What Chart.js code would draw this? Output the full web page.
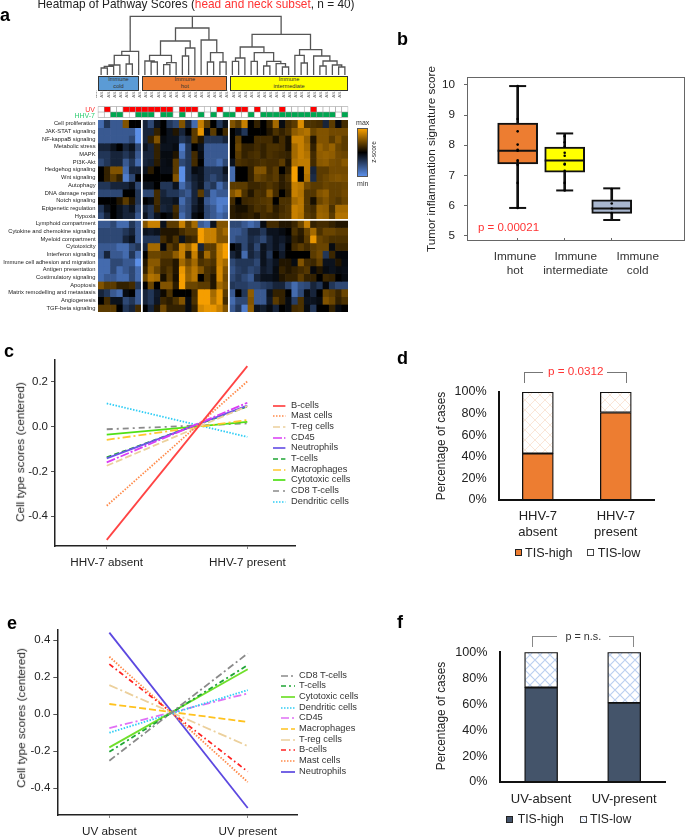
<!DOCTYPE html>
<html><head><meta charset="utf-8">
<style>
html,body{margin:0;padding:0;background:#fff}
#root{position:relative;width:685px;height:839px;overflow:hidden;font-family:"Liberation Sans",Arial,sans-serif;color:#222;filter:blur(0.35px)}
#root canvas{position:absolute}
.t{position:absolute;white-space:nowrap;line-height:1}
</style>
<script src="https://cdn.jsdelivr.net/npm/chart.js@4/dist/chart.umd.min.js"></script>
</head><body><div id="root"></div>
<script>
// ---------- DATA ----------
const pathways=["Cell proliferation","JAK-STAT signaling","NF-kappaB signaling","Metabolic stress","MAPK","PI3K-Akt","Hedgehog signaling","Wnt signaling","Autophagy","DNA damage repair","Notch signaling","Epigenetic regulation","Hypoxia","Lymphoid compartment","Cytokine and chemokine signaling","Myeloid compartment","Cytotoxicity","Interferon signaling","Immune cell adhesion and migration","Antigen presentation","Costimulatory signaling","Apoptosis","Matrix remodelling and metastasis","Angiogenesis","TGF-beta signaling"];
const sampleIds=["AS-37","AS-87","AS-59","AS-06","AS-14","AS-15","AS-19","AS-86","AS-88","AS-18","AS-29","AS-43","AS-49","AS-17","AS-46","AS-48","AS-41","AS-73","AS-16","AS-90","AS-50","AS-53","AS-52","AS-21","AS-13","AS-11","AS-08","AS-20","AS-33","AS-34","AS-22","AS-72","AS-27","AS-82","AS-84","AS-47","AS-51","AS-45","AS-24","AS-36"];
const uvPresent=[1,4,5,6,7,8,9,10,11,13,14,15,19,22,23,25,29,34];
const hhvPresent=[2,3,6,7,8,10,11,13,16,18,20,21,24,26,27,28,29,30,31,32,33,34,35,36,37,39];
const heatCold=[
[-3,-1.5,-2.5,-2.5,1.5,0,0],[-2.5,-2.5,-2.5,-2.5,-2.5,-2.5,-4],[-2.5,-2.5,-2.5,-2.5,-2.5,-2,-4],[-1,-1,-.5,0,-1,-.5,-2],[-1.5,-1.5,-1,-1,-1.5,-1,-2.5],[-2,-1.5,-1,-1,-2.5,-1.5,-3],[0,.5,1.5,1.5,-3,-1,-1],[0,.5,1,.5,-3.5,-2,0],[-1.5,-1.5,-1,-1,-1,-.5,-2],[-2,-2,-2,-2,0,0,-1.5],[0,0,0,.3,1,.3,-1.5],[-1.5,-.5,0,-.5,-1,-.5,-2],[-2,-1,0,-.5,-1,-1,-2.5],
[-2.5,-2.5,-2,-3,-3,-1.5,-2.5],[-2,-2,-2,-2,-1.5,-1,-2.5],[-2,-2,-2,-2,-1,-.5,-2.5],[-2.5,-2.5,-2.5,-3,-3,-2,-1.5],[-2.5,-1,-2.5,-2.5,-3,-1.5,-3],[-3,-3,-2,-2,-2.5,-2.5,-4],[-3,-3,-2,-3,-2.5,-2,-3],[-3,-2.5,-2.5,-3,-3,-2,-3],[1.5,1,1,.5,.5,.7,-1.5],[-1,-1.5,-2.5,-3,-.3,0,-2.5],[0,.7,-.5,-.5,-2,-1.5,-2.5],[1,1,1,0,-1.5,-1,.7]];
const heatHot=[
[-1,-2,-.5,0,-1.5,-2,1.5,-1,-3,2.5,1,0,-1.5,-.5],[-1,-1,.5,0,-.5,.3,-1,0,1,3,-.3,1,0,.7],[-1,.5,1.5,-.3,-.5,-.5,-1.5,-1,1,.3,-1.5,-1.5,-1.5,-1],[-.5,-1,.5,-.5,-.5,-.3,-3.5,-1.5,0,-.5,-2.5,-2.5,-2.5,-2.5],[-1,-1,.5,-.3,-.3,.3,-3,-1.5,.7,-.3,-2.5,-2.5,-2.5,-2.5],[-1,-.8,.4,-.4,-.3,1,-2,-1.5,.7,0,-2.5,-2.5,-3,-2],[-.5,.4,0,-.4,-.4,1,-4,-1.5,-.3,-.5,-1.5,-1.5,-1.5,-.5],[0,0,0,0,0,1.5,-4,-1.5,-.8,-.5,-1.5,-2,-1.5,-1],[-.5,-.5,0,-1.5,-1.5,-.5,-3,-2,-1,-.5,-2,-1.5,-3,-2],[-2,-2,.7,-1,-1.5,-1.5,-2,-2.5,-1,1,-1.5,-3,-2.5,-2.5],[0,-.3,.7,-.8,-.8,-.5,-3,-2,-1,-.3,-2.5,-3,-3.5,-3.5],[-1,-1.5,.5,-1,-.8,.7,-2.5,-2,-.7,-.3,-2,-2.5,-3.5,-3],[-.5,-1.5,-.5,0,-.3,.5,-3,-2,-.3,0,-2,-2.5,-3,-2.5],
[1.5,2.5,2.5,-.5,1,1,2.5,1,2,-2.5,-3,-.5,1.5,1.5],[-.5,-.7,-.5,.3,.3,.3,.7,1,1,3.5,2.5,2.5,1.5,2],[-1.5,-1.5,-1.5,.7,.3,.8,-.5,.5,.7,3.5,2.5,2.5,1.5,1.5],[-1,2,2,-.2,1,.6,2.5,1.8,3,-1,1,1,2.5,3.2],[0,1.2,1.2,1,1,1.7,2.5,.5,2.5,.5,2,1,2.5,3.5],[.3,1.6,1.6,.7,.7,.3,2,1.3,2,.8,1,.8,2.5,2],[.5,1.8,1.2,.6,.9,.3,3,1.7,2.3,1.5,.8,.6,2.7,1.5],[1.2,2.2,2,.2,1,.2,3.2,1.8,2.3,0,.8,.3,2.7,1.3],[0,1.2,0,1.5,1.5,.4,3.2,1.2,1.2,1,1,.3,2,1.5],[-1,-1.5,-.7,.1,.8,0,0,0,.7,3.3,3.3,2,3,1],[-1,-1.5,-.6,.6,.4,.8,1.5,-.3,.8,3.3,3.3,2.2,3,.7],[0,-1,.3,1.3,.5,.5,.5,-.3,.5,2.7,3,3,2.5,1.5]];
const heatInter=[
[1.5,1,2.5,0,.5,0,.5,2,-.3,.7,1,2.8,.8,.8,.7,-1,1,-.2,.7],[0,-.5,-1.5,0,0,0,.3,.8,.5,.8,1.7,2,2.2,1.2,1.5,1.5,1.3,1.3,1.3],[0,1,0,0,.7,.7,.7,.2,.7,.2,2.5,2.5,1.8,.3,1.5,1.5,1,1.5,1],[0,1.2,.5,.5,.7,.5,.8,.8,.7,.2,2,2.5,2,.5,1.8,1.5,1.8,1.2,1],[0,1,.5,.7,.8,.5,.8,.7,.6,.5,2,2.5,2.2,.7,1.7,1.8,1.7,1.3,1.2],[-.5,.8,.7,.6,.7,.8,.7,.7,1,.3,2.2,2.4,2.4,.7,1.6,1.7,1.4,1.3,1.6],[-3,0,0,.5,1.5,1.5,.7,1,0,.5,3.5,0,2.4,-1,1,1,1.3,1.3,1.3],[-3,0,0,.5,1.2,1,.8,1,.4,.8,3.5,0,2.2,-1.2,1,1.2,1.4,1.5,1.4],[1,1,1,.6,.6,.7,.9,.7,.4,.6,2.5,2.3,1.3,1,1,1.2,1.1,1.1,1.2],[1.5,2,.8,.3,.8,.7,1.6,.7,0,.5,2.5,2.2,.9,.9,1.5,1.7,1.1,1.1,1.3],[.7,0,.6,.7,.8,.9,1,0,.8,.8,2,2.3,.9,.2,1.2,1.5,1.1,.9,1.2],[.4,.2,.2,.5,.8,.7,1,.4,.7,.9,2.5,2.3,.9,.7,1.8,1.7,.8,2,2],[.4,.3,.4,.5,.3,.7,.6,.5,.8,.9,2.5,2.2,1,.8,1.9,1.8,1,2.2,2.2],
[-2,-2,-2.5,-3,-2.5,-.3,.7,.7,.3,.3,.6,1.2,2.5,.5,.7,.7,.5,.3,.3],[-2.5,-2.5,-2,-1,-1,-1.5,-.5,-.5,-.3,0,.8,.4,1.2,2,.8,1.2,1.2,1,1],[-2.5,-2,-2,-1.2,-1.5,-2,-1,-.5,-.7,-.3,.5,.3,1,3,1.2,1,.8,.8,.8],[0,-.5,-2,-1,-2,-.5,-1,-.5,-1,0,.7,1,.7,1,1.2,1.2,-.3,.6,.6],[-1,-.5,-3,-1,-1.5,-.5,-1.5,0,-.7,0,0,0,0,1,1.3,-1.5,.6,-.2,-.2],[-2,-1.5,-1.5,-1.5,-2,-.5,-1,-.5,.3,.3,-.3,1.5,.7,.6,1.1,-.5,-.5,.3,-.3],[-2.3,-1.7,-1.5,-2,-1.7,-.7,-1,-.3,.5,.3,.5,.7,.9,-.2,.3,-.3,-.5,-.3,-.4],[-2,-1.5,-2,-2.5,-1,-.5,-.5,-.3,.3,.5,.5,1,.5,.5,0,.6,.5,0,-.3],[-1.5,-1.7,-1.7,-2,-2,-1.7,-1.5,-1,-1,-2,-3,-2.2,-2,-1,-1.5,-.2,-1.5,-2,-2],[-2.5,0,-1.5,1.7,-2.5,-2.5,-.5,.5,.5,0,-3,-2,-.3,-1,0,1.2,1,.6,1.2],[-3,-2,-2,1.5,-2.5,-2.5,-.7,1,.5,-.3,-1.7,.8,-.5,-.5,-.3,1.5,1.2,.5,.8],[-2.5,-1.5,-3.5,1.7,-.5,-.8,-.3,-1,0,-.3,.7,.8,-.3,-1.5,0,0,.5,-.3,0]];
// dendrogram merges: [left x, right x, height, left child height, right child height]
const merges=[[.5,1.5,7,0,0],[1,2.5,8.7,7,0],[1.75,3.5,10,8.7,0],[4.5,5.5,11,0,0],[2.6,5,19.7,10,11],[3.8,6.5,23.7,19.7,0],
[8.5,9.5,13,0,0],[7.5,9,14,0,13],[10.5,11.5,10.3,0,0],[11,12.5,12.3,10.3,0],[8.25,11.75,19.7,14,12.3],[13.5,14.5,19,0,0],[14,15.5,27,19,0],[10,14.75,34,19.7,27],[17.5,18.5,13,0,0],[19.5,20.5,13,0,0],[18,20,22.3,13,13],[16.5,19,35,0,22.3],[12.4,17.75,47,34,35],
[21.5,22.5,13.7,0,0],[22,23.5,17,13.7,0],[24.5,25.5,13.7,0,0],[26.5,27.5,9,0,0],[29.5,30.5,8,0,0],[28.5,30,11.3,0,8],[27,29.25,13.7,9,11.3],[25,28.1,22.3,13.7,13.7],[22.75,26.55,28,17,22.3],[32.5,33.5,12,0,0],[31.5,33,19.7,0,12],[35.5,36.5,9,0,0],[38.5,39.5,8,0,0],[37.5,39,10,0,8],[36,38.25,14,9,10],[34.5,37.1,19,0,14],[32.25,35.8,25.3,19.7,19],[24.65,34,40.7,28,25.3],
[5.15,29.3,58.7,23.7,40.7],[15.1,15.1,58.7,47,47]];
// panel b
const boxNames=[["Immune","hot"],["Immune","intermediate"],["Immune","cold"]];
const boxLo=[5.92,6.5,5.52],boxQ1=[7.38,7.11,5.74],boxMed=[7.82,7.49,5.9],boxQ3=[8.73,7.94,6.19],boxHi=[9.96,8.39,6.57];
const boxFill=["#ed7d31","#ffff00","#a9b7cf"];
const dotsHot=[9.96,8.87,8.46,8.02,7.85,7.82,7.5,7.45,7.35,6.75,5.92];
const dotsInter=[8.3,8.1,7.95,7.75,7.65,7.38,7.36,7.15,6.75,6.5];
const dotsCold=[6.55,6.07,5.9,5.75];
const bTicks=[5,6,7,8,9,10];
// panel c
const cNames=["B-cells","Mast cells","T-reg cells","CD45","Neutrophils","T-cells","Macrophages","Cytotoxic cells","CD8 T-cells","Dendritic cells"];
const cAbsent=[-.505,-.353,-.175,-.16,-.142,-.138,-.06,-.037,-.013,.102];
const cPresent=[.268,.2,.09,.105,.092,.088,.028,.02,.013,-.047];
const cColors=["#f44","#ff8a4a","#ecd09c","#d93cf5","#6b55e6","#1fa535","#ffc72e","#4fe016","#8a8a8a","#2fcdf5"];
const cDash=[[],[1.5,1.5],[7,3],[9,2,2,2],[],[5,3],[8,3,2,3],[],[6,4,2,4],[1.5,1.5]];
// panel e
const eNames=["CD8 T-cells","T-cells","Cytotoxic cells","Dendritic cells","CD45","Macrophages","T-reg cells","B-cells","Mast cells","Neutrophils"];
const eAbsent=[-.251,-.203,-.179,-.1,-.075,.055,.157,.27,.31,.44];
const ePresent=[.328,.265,.242,.13,.112,-.042,-.172,-.31,-.366,-.506];
const eColors=["#8a8a8a","#1fa535","#6fe02a","#2fcdf5","#e070f5","#ffc21e","#ecd09c","#f22","#ff8a4a","#5c48e0"];
const eDash=[[7,3,2,3],[5,3,2,3],[],[1.5,1.5],[8,3,2,3],[7,3],[9,3,2,3],[5,3,1.5,3],[1.5,1.5],[]];
// panels d, f
const dLabels=[["HHV-7","absent"],["HHV-7","present"]];
const dHigh=[43,81];
const fLabels=["UV-absent","UV-present"];
const fHigh=[72.8,61];
const pctTicks=[0,20,40,60,80,100];

// ---------- HELPERS ----------
const root=document.getElementById('root');
const FONT='"Liberation Sans",Arial,sans-serif';
Chart.defaults.font.family=FONT;
Chart.defaults.animation=false;
function text(x,y,s,o={}){const d=document.createElement('div');d.className='t';d.textContent=s;
  const a=o.anchor||'middle';const tx=a==='start'?'0':a==='end'?'-100%':'-50%';
  d.style.cssText+=`left:${x}px;top:${y}px;font-size:${o.size||12}px;color:${o.color||'#222'};font-weight:${o.weight||'normal'};transform:translate(${tx},-50%)${o.rot?` rotate(${o.rot}deg)`:''};transform-origin:${a==='middle'?'50% 50%':'0 50%'};`;
  root.appendChild(d);return d;}
function rich(x,y,parts,size){const d=document.createElement('div');d.className='t';d.style.cssText+=`left:${x}px;top:${y}px;font-size:${size}px;transform:translateY(-50%);`;
  parts.forEach(p=>{const s=document.createElement('span');s.textContent=p[0];s.style.color=p[1];d.appendChild(s)});root.appendChild(d);}
function box(x,y,w,h,css){const d=document.createElement('div');d.style.cssText=`position:absolute;box-sizing:border-box;left:${x}px;top:${y}px;width:${w}px;height:${h}px;${css}`;root.appendChild(d);return d;}
function chart(x,y,w,h,cfg){const c=document.createElement('canvas');c.width=w;c.height=h;c.style.left=x+'px';c.style.top=y+'px';c.style.width=w+'px';c.style.height=h+'px';root.appendChild(c);
  cfg.options=Object.assign({responsive:false,animation:false,devicePixelRatio:1,plugins:{legend:{display:false},tooltip:{enabled:false}}},cfg.options);
  return new Chart(c,cfg);}
const fit=size=>s=>{if(s.isHorizontal())s.height=size;else s.width=size;s.paddingLeft=s.paddingRight=s.paddingTop=s.paddingBottom=0;};
const setTicks=vals=>a=>{a.ticks=vals.map(v=>({value:v}));};
function heatColor(v){const t=v>=0?Math.pow(Math.min(1,v/3.2),.85):Math.min(1,-v/4);const e=v>=0?[245,158,0]:[91,143,232];return `rgb(${e.map(c=>Math.round(c*t)).join(',')})`;}
function hatch(color,lw){const p=document.createElement('canvas');p.width=p.height=10;const g=p.getContext('2d');g.fillStyle='#fff';g.fillRect(0,0,10,10);g.strokeStyle=color;g.lineWidth=lw;g.beginPath();g.moveTo(-1,-1);g.lineTo(11,11);g.moveTo(11,-1);g.lineTo(-1,11);g.stroke();return g.createPattern(p,'repeat');}
function legendLines(x,y,dy,w,names,colors,dashes,size,textGap){
  names.forEach((n,i)=>{const yy=y+i*dy;const s=document.createElementNS('http://www.w3.org/2000/svg','svg');
    s.setAttribute('width',w);s.setAttribute('height',4);s.style.cssText=`position:absolute;left:${x}px;top:${yy-2}px`;
    const l=document.createElementNS('http://www.w3.org/2000/svg','line');l.setAttribute('x1',0);l.setAttribute('x2',w);l.setAttribute('y1',2);l.setAttribute('y2',2);l.setAttribute('stroke',colors[i]);l.setAttribute('stroke-width',1.7);if(dashes[i].length)l.setAttribute('stroke-dasharray',dashes[i].join(' '));s.appendChild(l);root.appendChild(s);
    text(x+w+textGap,yy,n,{size,anchor:'start',color:'#333'});});
}

// ---------- PANEL LETTERS ----------
[["a",0,15],["b",397,39],["c",4,351],["d",397,358],["e",7,623],["f",397,622]].forEach(l=>text(l[1],l[2],l[0],{size:18,weight:'bold',anchor:'start',color:'#000'}));

// ---------- PANEL A ----------
rich(37.5,5,[["Heatmap of Pathway Scores (","#222"],["head and neck subset","#f33"],[", n = 40)","#222"]],11.85);
// dendrogram
const dendro=[];merges.forEach(m=>{dendro.push({x:m[0],y:m[3]},{x:m[0],y:m[2]},{x:m[1],y:m[2]},{x:m[1],y:m[4]},{x:m[1],y:null});});
chart(96,12,254,65,{type:'line',data:{datasets:[{data:dendro,borderColor:'#555',borderWidth:1.3,pointRadius:0,tension:0,spanGaps:false,clip:false}]},
 options:{layout:{padding:{left:2,right:2,top:3,bottom:2}},scales:{x:{type:'linear',display:false,min:0,max:40},y:{display:false,min:0,max:60}}}});
// group boxes
[[98,41,"#5b9bd5",["Immune","cold"]],[142.3,85,"#ed7d31",["Immune","hot"]],[230.3,117.5,"#ffff00",["Immune","intermediate"]]].forEach(g=>{
  box(g[0],76.3,g[1],14.4,`background:${g[2]};border:1px solid #333`);
  text(g[0]+g[1]/2,80.3,g[3][0],{size:5.7,color:'#333'});text(g[0]+g[1]/2,87,g[3][1],{size:5.7,color:'#333'});});
// annotation rows
const idx40=sampleIds.map((_,i)=>i);
chart(96,90,254,30,{type:'bar',data:{datasets:[
 {data:idx40.map(i=>({x:i+.5,y:[0,1]})),backgroundColor:idx40.map(i=>uvPresent.includes(i)?'#f00':'#fff'),borderColor:'#999',borderWidth:.6,borderSkipped:false,grouped:false,barPercentage:1,categoryPercentage:1,clip:false},
 {data:idx40.map(i=>({x:i+.5,y:[1,2]})),backgroundColor:idx40.map(i=>hhvPresent.includes(i)?'#00a651':'#fff'),borderColor:'#999',borderWidth:.6,borderSkipped:false,grouped:false,barPercentage:1,categoryPercentage:1,clip:false}]},
 options:{layout:{padding:{left:2,right:2,bottom:2.7}},scales:{
  x:{type:'linear',position:'top',min:0,max:40,offset:false,afterBuildTicks:setTicks(idx40.map(i=>i+.5)),afterFit:fit(16.7),border:{display:false},grid:{display:false,offset:false},
     ticks:{autoSkip:false,maxRotation:90,minRotation:90,padding:1,font:{size:4.4},color:'#666',callback:v=>sampleIds[Math.floor(v)]}},
  y:{display:false,min:0,max:2,reverse:true}}}});
text(95,109.3,"UV",{size:7,anchor:'end',color:'#f33'});
text(95,114.8,"HHV-7",{size:7,anchor:'end',color:'#2ecc71'});
// heat cells
const heatRows=pathways.map((_,r)=>heatCold[r].concat(heatHot[r],heatInter[r]));
chart(0,118,350,196,{type:'bar',data:{datasets:heatRows.map((row,r)=>({data:row.map((v,c)=>({x:c+.5,y:[r,r+1]})),backgroundColor:row.map(heatColor),borderWidth:0,grouped:false,barPercentage:1,categoryPercentage:1}))},
 options:{layout:{padding:{top:2,bottom:2,right:2}},scales:{
  x:{type:'linear',min:0,max:40,offset:false,afterBuildTicks:setTicks([7,21]),afterFit:fit(0),border:{display:false},ticks:{display:false},grid:{z:1,offset:false,color:'#fff',lineWidth:1.8,drawTicks:false}},
  y:{type:'linear',min:0,max:25,reverse:true,afterBuildTicks:setTicks(pathways.map((_,i)=>i+.5)),afterFit:fit(98),border:{display:false},grid:{display:false,drawTicks:false},
     ticks:{autoSkip:false,padding:2.5,font:{size:5.75},color:'#222',callback:v=>pathways[Math.floor(v)]}},
  y2:{type:'linear',position:'right',min:0,max:25,reverse:true,afterBuildTicks:setTicks([13]),afterFit:fit(0),border:{display:false},ticks:{display:false},grid:{z:1,color:'#fff',lineWidth:1.8,drawTicks:false}}}}});
// colour bar
box(356.7,127.7,11.6,49,'background:linear-gradient(to bottom,#f59e00 0%,#000 50%,#5b8fe8 100%);border:1px solid #555');
text(362.7,121.7,"max",{size:7,color:'#333'});
text(362.7,182.7,"min",{size:7,color:'#333'});
text(374,151.7,"z-score",{size:6.6,color:'#333',rot:-90});

// ---------- PANEL B ----------
box(467,76.7,217.5,164.5,'border:1px solid #666');
const X=[1,2,3];
const whisk={type:'bar',data:X.map((x,i)=>({x,y:[boxLo[i],boxHi[i]]})),backgroundColor:'#111',barThickness:2,grouped:false,order:5};
const boxes={type:'bar',data:X.map((x,i)=>({x,y:[boxQ1[i],boxQ3[i]]})),backgroundColor:boxFill,borderColor:'#111',borderWidth:2,borderSkipped:false,barThickness:40,grouped:false,order:4};
const lineMark=(vals,r,bw,ord)=>({type:'scatter',data:X.map((x,i)=>({x,y:vals[i]})),pointStyle:'line',pointRadius:r,borderColor:'#111',pointBorderColor:'#111',pointBorderWidth:bw,showLine:false,order:ord});
const dots=(x,vals)=>({type:'scatter',data:vals.map(y=>({x,y})),pointRadius:1.3,pointBackgroundColor:'#000',pointBorderWidth:0,showLine:false,order:1});
chart(400,60,285,200,{type:'bar',data:{datasets:[whisk,boxes,lineMark(boxLo,8.5,2,3),lineMark(boxHi,8.5,2,3),lineMark(boxMed,20,2,2),dots(1,dotsHot),dots(2,dotsInter),dots(3,dotsCold)]},
 options:{layout:{padding:{top:16.7,right:1}},scales:{
  x:{type:'linear',min:-.077,max:4.09,offset:false,afterBuildTicks:setTicks(X),afterFit:fit(19.3),border:{display:false},grid:{offset:false,drawOnChartArea:false,tickLength:3,tickColor:'#666'},ticks:{display:false}},
  y:{min:4.924,max:10.095,afterBuildTicks:setTicks(bTicks),afterFit:fit(67),border:{display:false},grid:{drawOnChartArea:false,tickLength:3,tickColor:'#666'},ticks:{padding:9,font:{size:11.7},color:'#222',callback:v=>String(v)}}}}});
text(430.7,159,"Tumor inflammation signature score",{size:11.7,rot:-90});
text(508.5,228.3,"p = 0.00021",{size:11.5,color:'#f33'});
[[515,0],[575.7,1],[637.7,2]].forEach(l=>{text(l[0],257.3,boxNames[l[1]][0],{size:11.8,color:'#333'});text(l[0],270.7,boxNames[l[1]][1],{size:11.8,color:'#333'});});

// ---------- PANELS C, E ----------
function linePanel(x0,y0,w,h,names,a,b,colors,dash,xl,yr,xr,axisH,axisW,topPad,labs,rightPad){
 chart(x0,y0,w,h,{type:'line',data:{datasets:names.map((n,i)=>({label:n,data:[{x:0,y:a[i]},{x:1,y:b[i]}],borderColor:colors[i],borderDash:dash[i],borderWidth:1.8,pointRadius:0,tension:0,clip:false}))},
 options:{layout:{padding:{top:topPad,right:rightPad}},scales:{
  x:{type:'linear',min:xl[0],max:xl[1],afterBuildTicks:setTicks([0,1]),afterFit:fit(axisH),border:{color:'#222',width:1.5},grid:{drawOnChartArea:false,tickLength:3,tickColor:'#888'},ticks:{padding:7,font:{size:11.7},color:'#222',maxRotation:0,callback:v=>labs[v]}},
  y:{min:yr[0],max:yr[1],afterBuildTicks:setTicks(xr),afterFit:fit(axisW),border:{color:'#222',width:1.5},grid:{drawOnChartArea:false,tickLength:4,tickColor:'#555'},ticks:{padding:3,font:{size:11.5},color:'#222',callback:v=>v.toFixed(1)}}}}});
}
linePanel(0,355,300,215,cNames,cAbsent,cPresent,cColors,cDash,[-.368,1.339],[-.532,.295],[-.4,-.2,0,.2],24,55,5,["HHV-7 absent","HHV-7 present"],5);
text(20,451.7,"Cell type scores (centered)",{size:11.7,rot:-90});
legendLines(273.3,405.7,10.67,12.4,cNames,cColors,cDash,9.3,5.3);
linePanel(0,625,302,214,eNames,eAbsent,ePresent,eColors,eDash,[-.376,1.361],[-.544,.458],[-.4,-.2,0,.2,.4],24,57.3,4.3,["UV absent","UV present"],4.3);
text(21.3,718,"Cell type scores (centered)",{size:11.7,rot:-90});
legendLines(281,675.7,10.67,14,eNames,eColors,eDash,9.3,4);

// ---------- PANELS D, F ----------
function stackPanel(x0,y0,w,h,high,labs,fill,hatchColor,lw,thick,xr,axisH,axisW,topPad,rightPad,tickPad){
 const P=hatch(hatchColor,lw);
 chart(x0,y0,w,h,{type:'bar',data:{datasets:[
  {label:'TIS-high',data:high.map((v,i)=>({x:i,y:[0,v]})),backgroundColor:fill,borderColor:'#111',borderWidth:1.3,borderSkipped:false,barThickness:thick,grouped:false},
  {label:'TIS-low',data:high.map((v,i)=>({x:i,y:[v,100]})),backgroundColor:P,borderColor:'#111',borderWidth:1.3,borderSkipped:false,barThickness:thick,grouped:false}]},
 options:{layout:{padding:{top:topPad,right:rightPad}},scales:{
  x:{type:'linear',min:xr[0],max:xr[1],offset:false,afterBuildTicks:setTicks([0,1]),afterFit:fit(axisH),border:{color:'#111',width:2},grid:{display:false,drawTicks:false,offset:false},ticks:{padding:tickPad,font:{size:13,lineHeight:16/13},color:'#222',maxRotation:0,callback:v=>labs[v]}},
  y:{min:0,max:100,afterBuildTicks:setTicks(pctTicks),afterFit:fit(axisW),border:{color:'#111',width:2},grid:{display:false,drawTicks:false},ticks:{padding:12.5,font:{size:12.6},color:'#222',callback:v=>v+'%'}}}}});
}
stackPanel(450,385,210,155,dHigh,dLabels,'#ed7d31','#fae6d8',1,31,[-.494,1.49],40,49.3,7,6,8);
text(441.7,445.7,"Percentage of cases",{size:11.9,rot:-90});
box(524.3,372,19.2,10.7,'border-left:1px solid #777;border-top:1px solid #777');
box(606.7,372,20.6,10.7,'border-right:1px solid #777;border-top:1px solid #777');
text(575.7,370.7,"p = 0.0312",{size:11.7,color:'#f33'});
box(515,549,7,7,'background:#ed7d31;border:1px solid #222');
text(525,552.7,"TIS-high",{size:12.6,anchor:'start'});
box(586.7,549,7,7,'background:#fff;border:1px solid #444');
text(597.7,552.7,"TIS-low",{size:12.6,anchor:'start'});

stackPanel(450,645,225,170,fHigh,fLabels,'#44546a','#bcd0f0',1.2,33,[-.495,1.5],33,50,7.3,9.3,9);
text(441.7,716,"Percentage of cases",{size:11.9,rot:-90});
box(532,636,25.3,10.7,'border-left:1px solid #888;border-top:1px solid #888');
box(609,636,25,10.7,'border-right:1px solid #888;border-top:1px solid #888');
text(583.3,636,"p = n.s.",{size:10.8,color:'#333'});
box(506,815.5,7,7,'background:#44546a;border:1px solid #222');
text(517.7,819.3,"TIS-high",{size:12.2,anchor:'start'});
box(580,815.5,7,7,'background:repeating-linear-gradient(45deg,#bcd0f0 0 1px,#fff 1px 3px);border:1px solid #444');
text(590,819.3,"TIS-low",{size:12.2,anchor:'start'});
</script></body></html>
